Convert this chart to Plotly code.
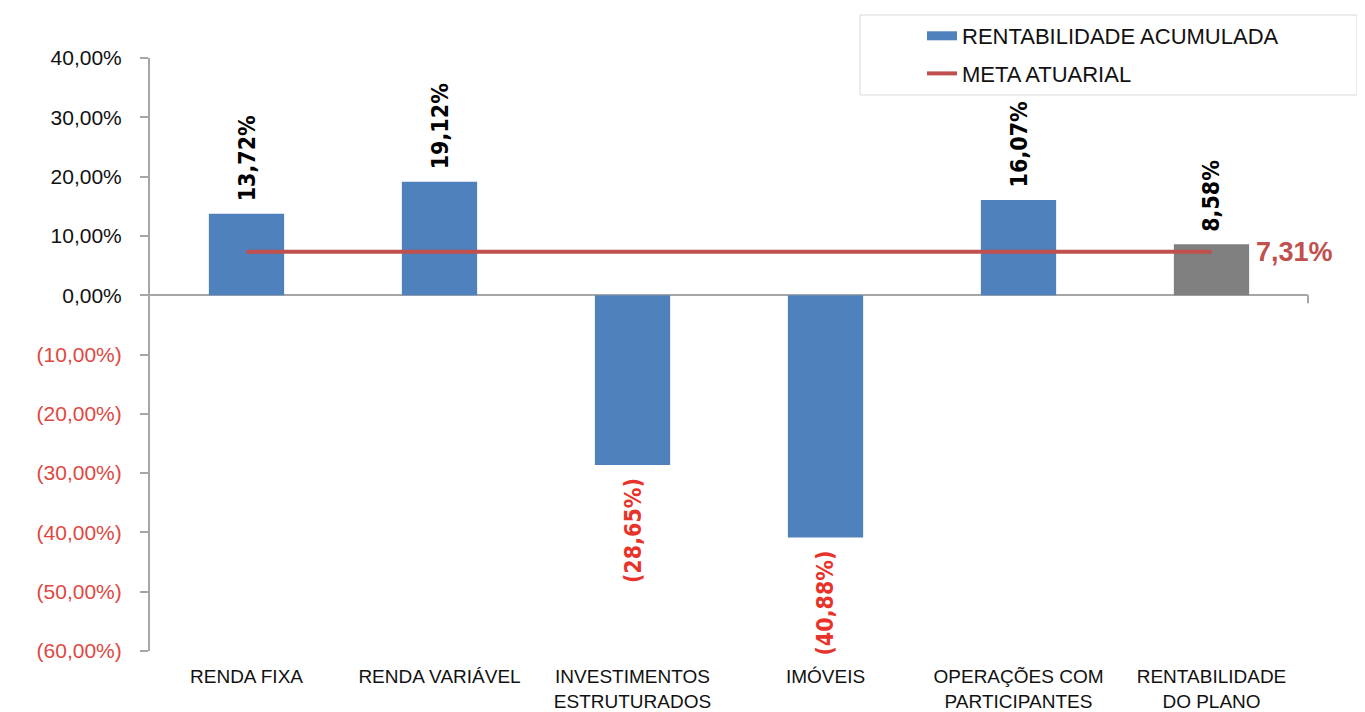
import plotly.graph_objects as go

categories = ["RENDA FIXA", "RENDA VARIÁVEL", "INVESTIMENTOS<br>ESTRUTURADOS",
              "IMÓVEIS", "OPERAÇÕES COM<br>PARTICIPANTES", "RENTABILIDADE<br>DO PLANO"]
rentabilidade = [13.72, 19.12, -28.65, -40.88, 16.07, 8.58]
meta_atuarial = 7.31
value_labels = ["13,72%", "19,12%", "(28,65%)", "(40,88%)", "16,07%", "8,58%"]
meta_label = "7,31%"
tick_vals = [40, 30, 20, 10, 0, -10, -20, -30, -40, -50, -60]
tick_text = ["40,00%", "30,00%", "20,00%", "10,00%", "0,00%", "(10,00%)", "(20,00%)",
             "(30,00%)", "(40,00%)", "(50,00%)", "(60,00%)"]

BLUE = "#4F81BD"
GRAY = "#808080"
RED_LINE = "#C0504D"
RED_TXT = "#E8332B"
RED_TICK = "#E0473F"
AXIS = "#A6A6A6"

bar_colors = [BLUE] * (len(categories) - 1) + [GRAY]

fig = go.Figure()
fig.add_trace(go.Bar(x=categories, y=rentabilidade, marker_color=bar_colors,
                     marker_line_width=0, showlegend=False, hoverinfo="x+y"))
fig.add_trace(go.Scatter(x=[categories[0], categories[-1]], y=[meta_atuarial] * 2,
                         mode="lines", line=dict(color=RED_LINE, width=4),
                         showlegend=False))
# legend entries
fig.add_trace(go.Scatter(x=[None], y=[None], mode="lines", name="RENTABILIDADE ACUMULADA",
                         line=dict(color=BLUE, width=9), legendgroup="a"))
fig.add_trace(go.Scatter(x=[None], y=[None], mode="lines", name="META ATUARIAL",
                         line=dict(color=RED_LINE, width=4), legendgroup="b"))

annotations = []
for c, v, t in zip(categories, rentabilidade, value_labels):
    annotations.append(dict(
        x=c, y=v, xref="x", yref="y", text=t, showarrow=False, textangle=-90,
        yanchor="bottom" if v >= 0 else "top", yshift=10 if v >= 0 else -11,
        font=dict(family="Liberation Sans Narrow, DejaVu Sans Condensed, Arial Narrow, sans-serif",
                  size=23, color="black" if v >= 0 else RED_TXT, weight="bold")))
annotations.append(dict(
    x=categories[-1], y=meta_atuarial, xref="x", yref="y", text="<b>%s</b>" % meta_label,
    showarrow=False, xanchor="left", xshift=42, yanchor="middle",
    font=dict(family="Liberation Sans, Arial, sans-serif", size=27, color=RED_LINE)))

ticktext_colored = [t if v >= 0 else "<span style='color:%s'>%s</span>" % (RED_TICK, t)
                    for v, t in zip(tick_vals, tick_text)]

# page body has an 8px default margin, so the figure is sized/offset to compensate
W, H = 1357, 704
fig.update_layout(
    width=W, height=H,
    margin=dict(l=142, r=57, t=50, b=61, autoexpand=False),
    paper_bgcolor="white", plot_bgcolor="white",
    bargap=0.61,
    font=dict(family="Liberation Sans, Arial, sans-serif", color="black"),
    annotations=annotations,
    showlegend=True,
    legend=dict(xref="container", yref="container", x=914 / W, y=1 - 7 / H,
                xanchor="left", yanchor="top", bgcolor="rgba(0,0,0,0)",
                borderwidth=0, font=dict(size=22, color="#111"), tracegroupgap=6,
                itemwidth=30),
    shapes=[dict(type="rect", xref="paper", yref="paper",
                 x0=(860 - 150) / 1158, x1=(1357 - 150) / 1158,
                 y0=(651 - 95) / 593, y1=(651 - 15) / 593,
                 line=dict(color="#D9D9D9", width=1), fillcolor="white", layer="below"),
            dict(type="line", xref="paper", x0=1, x1=1, yref="y", ysizemode="pixel",
                 yanchor=0, y0=0, y1=-8, line=dict(color=AXIS, width=2))],
    xaxis=dict(showline=False, showgrid=False, zeroline=False, ticks="",
               tickfont=dict(size=19, color="#111"), ticklabelstandoff=12,
               range=[-0.5, 5.5], automargin=False),
    yaxis=dict(range=[-60, 40], tickvals=tick_vals, ticktext=ticktext_colored,
               showgrid=False, showline=True, linecolor=AXIS, linewidth=2,
               ticks="outside", ticklen=8, tickcolor=AXIS, tickwidth=2,
               zeroline=True, zerolinecolor=AXIS, zerolinewidth=2,
               tickfont=dict(size=21, color="#111"), ticklabelstandoff=14,
               automargin=False),
)

fig.write_html("out.html")
